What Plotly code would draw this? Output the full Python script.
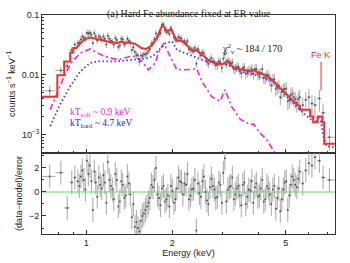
import numpy as np
import plotly.graph_objects as go
from plotly.subplots import make_subplots

# ---- data ----
energy = [0.745, 0.815, 0.858, 0.89, 0.912, 0.935, 0.958, 0.981, 1.005, 1.03,
          1.055, 1.08, 1.107, 1.134, 1.162, 1.19, 1.219, 1.249, 1.28, 1.311,
          1.343, 1.376, 1.41, 1.445, 1.48, 1.517, 1.554, 1.592, 1.631, 1.671,
          1.712, 1.754, 1.797, 1.841, 1.886, 1.932, 1.979, 2.028, 2.077, 2.128,
          2.18, 2.234, 2.288, 2.344, 2.401, 2.46, 2.52, 2.582, 2.645, 2.709,
          2.776, 2.843, 2.913, 2.984, 3.057, 3.132, 3.208, 3.287, 3.367, 3.449,
          3.534, 3.62, 3.709, 3.8, 3.893, 3.988, 4.085, 4.185, 4.288, 4.392,
          4.5, 4.61, 4.723, 4.838, 4.956, 5.078, 5.202, 5.329, 5.46, 5.593,
          5.73, 5.87, 6.02, 6.17, 6.32, 6.55, 6.75, 7.1]
counts = [0.0054, 0.0118, 0.0140, 0.026, 0.032, 0.034, 0.039, 0.042, 0.050, 0.050,
          0.034, 0.044, 0.044, 0.039, 0.040, 0.045, 0.037, 0.032, 0.038, 0.031,
          0.039, 0.034, 0.037, 0.026, 0.024, 0.021, 0.021, 0.022, 0.023, 0.027,
          0.034, 0.049, 0.047, 0.069, 0.055, 0.052, 0.061, 0.042, 0.038, 0.041,
          0.035, 0.034, 0.027, 0.0265, 0.028, 0.027, 0.021, 0.023, 0.0165, 0.0175,
          0.017, 0.0145, 0.0168, 0.013, 0.022, 0.017, 0.0155, 0.0124, 0.0135, 0.012,
          0.013, 0.0104, 0.0119, 0.0125, 0.0125, 0.0102, 0.0108, 0.0089, 0.010, 0.0085,
          0.0082, 0.0058, 0.0066, 0.0052, 0.0057, 0.0036, 0.0045, 0.0042, 0.0034, 0.0042,
          0.0031, 0.0038, 0.0042, 0.0033, 0.0031, 0.0040, 0.0023, 0.0009]
counts_relerr = [0.22, 0.15, 0.14, 0.12, 0.12, 0.12, 0.12, 0.12, 0.13, 0.13,
                 0.13, 0.13, 0.13, 0.13, 0.13, 0.13, 0.13, 0.13, 0.13, 0.13,
                 0.13, 0.13, 0.13, 0.14, 0.14, 0.14, 0.14, 0.14, 0.14, 0.14,
                 0.13, 0.12, 0.12, 0.11, 0.11, 0.11, 0.11, 0.12, 0.12, 0.12,
                 0.13, 0.13, 0.14, 0.14, 0.14, 0.14, 0.15, 0.15, 0.16, 0.16,
                 0.16, 0.17, 0.17, 0.17, 0.16, 0.16, 0.17, 0.18, 0.18, 0.18,
                 0.19, 0.19, 0.19, 0.2, 0.2, 0.21, 0.21, 0.22, 0.22, 0.23,
                 0.24, 0.25, 0.25, 0.26, 0.27, 0.28, 0.3, 0.3, 0.32, 0.33,
                 0.35, 0.36, 0.37, 0.38, 0.4, 0.4, 0.42, 0.4]
resid = [1.3, 1.6, -1.33, 0.8, 1.2, 0.9, 1.3, 1.0, 2.6, 2.2,
         -1.5, 0.8, 1.2, 0.3, 0.8, 2.5, 0.5, -0.6, 1.0, -0.8,
         0.6, -0.3, 0.7, -2.1, -2.9, -3.0, -2.4, -1.8, -1.2, -0.5,
         0.4, 2.0, -0.5, 0.3, -0.8, -0.3, 0.5, -0.9, 0.3, 0.9,
         -0.2, 0.6, -0.6, 0.2, 1.0, 0.7, -0.4, 1.3, -0.7, 0.4,
         0.5, -0.5, 0.8, -0.9, 2.8, 0.2, 0.5, -0.6, 0.3, -0.3,
         0.6, -1.0, 0.2, 0.9, 0.4, -0.4, 0.3, -0.8, 0.5, -0.2,
         0.2, -1.4, 0.3, -0.6, 0.8, -1.5, 0.6, 1.0, 0.4, 1.7,
         0.7, 1.8, 2.4, 2.2, 2.9, 2.6, 1.2, 1.0]

# second interleaved group of spectral bins
energy_b = [0.946, 0.969, 0.993, 1.017, 1.042, 1.067, 1.093, 1.12, 1.148, 1.176,
            1.204, 1.234, 1.264, 1.295, 1.327, 1.359, 1.393, 1.427, 1.462, 1.498,
            1.535, 1.573, 1.611, 1.651, 1.691, 1.733, 1.775, 1.819, 1.863, 1.909,
            1.955, 2.003, 2.052, 2.102, 2.154, 2.207, 2.261, 2.316, 2.372, 2.43,
            2.49, 2.551, 2.613, 2.677, 2.742, 2.809, 2.878, 2.948, 3.02, 3.094,
            3.17, 3.247, 3.327, 3.408, 3.491, 3.577, 3.664, 3.754, 3.846, 3.94,
            4.036, 4.135, 4.236, 4.34, 4.446, 4.555, 4.666, 4.78, 4.897, 5.017,
            5.14, 5.265, 5.394, 5.526]
counts_b = [0.0346, 0.0438, 0.040, 0.049, 0.0467, 0.0495, 0.0375, 0.0415, 0.0437, 0.0322,
            0.040, 0.0357, 0.041, 0.0291, 0.040, 0.0324, 0.040, 0.034, 0.0288, 0.0216,
            0.0165, 0.0206, 0.0218, 0.025, 0.033, 0.0395, 0.042, 0.050, 0.070, 0.0517,
            0.048, 0.0527, 0.0387, 0.0428, 0.0405, 0.0366, 0.0365, 0.0264, 0.0257, 0.0152,
            0.0234, 0.0237, 0.0192, 0.0152, 0.019, 0.0162, 0.0146, 0.0163, 0.0185, 0.015,
            0.0163, 0.016, 0.0128, 0.0136, 0.0106, 0.0133, 0.0112, 0.0116, 0.0104, 0.0125,
            0.0103, 0.0123, 0.0089, 0.0096, 0.0066, 0.0084, 0.0061, 0.0042, 0.0057, 0.0059,
            0.0038, 0.0048, 0.0039, 0.0039]
counts_relerr_b = [0.12, 0.12, 0.12, 0.13, 0.13, 0.13, 0.13, 0.13, 0.13, 0.13,
                   0.13, 0.13, 0.13, 0.13, 0.13, 0.13, 0.13, 0.14, 0.14, 0.14,
                   0.14, 0.14, 0.14, 0.14, 0.13, 0.13, 0.12, 0.12, 0.11, 0.11,
                   0.11, 0.11, 0.12, 0.12, 0.13, 0.13, 0.13, 0.14, 0.14, 0.14,
                   0.15, 0.15, 0.16, 0.16, 0.16, 0.17, 0.17, 0.17, 0.16, 0.16,
                   0.17, 0.17, 0.18, 0.18, 0.18, 0.19, 0.19, 0.2, 0.2, 0.2,
                   0.21, 0.21, 0.22, 0.22, 0.23, 0.24, 0.25, 0.26, 0.26, 0.27,
                   0.29, 0.3, 0.31, 0.33]
resid_b = [0.5, 1.8, 0.2, 1.5, 0.9, 1.7, -0.4, 0.6, 1.4, -0.9,
           1.0, 0.2, 1.5, -1.2, 0.9, -0.5, 1.3, -0.2, -1.0, -2.5,
           -3.3, -2.0, -1.5, -0.9, 0.6, 1.0, -0.2, -1.1, 0.5, -0.6,
           -1.2, 0.1, -0.6, 1.2, 0.8, 0.7, 1.5, -0.3, 0.3, -3.2,
           -0.1, 0.9, 0.0, -1.0, 1.1, 0.2, -0.4, 0.6, 1.6, -0.8,
           0.4, 1.2, -0.2, 0.5, -1.1, 0.8, -0.4, 0.1, -0.9, 0.7,
           -0.3, 1.0, -0.6, 0.3, -1.0, 0.5, -0.5, -1.6, 0.2, 0.9,
           -0.3, 1.3, 0.6, 1.1]

model_E = [0.70, 0.792, 0.792, 0.837, 0.837, 0.879, 0.879, 0.901, 0.901, 0.923,
           0.95, 0.98, 1.01, 1.033, 1.08, 1.15, 1.22, 1.284, 1.33, 1.37,
           1.425, 1.46, 1.484, 1.56, 1.62, 1.70, 1.77, 1.82, 1.849, 1.88,
           1.921, 1.95, 1.979, 2.02, 2.077, 2.13, 2.185, 2.27, 2.366, 2.43,
           2.48, 2.541, 2.62, 2.715, 2.85, 2.98, 3.05, 3.106, 3.17, 3.27,
           3.45, 3.65, 3.80, 3.87, 3.95, 4.15, 4.4, 4.6, 4.77, 5.0,
           5.16, 5.5, 5.6, 5.6, 6.08, 6.08, 6.23, 6.23, 6.46, 6.46,
           6.7, 6.7, 6.81, 6.81, 7.43]
model_val = [0.0043, 0.0043, 0.0098, 0.0098, 0.0167, 0.0167, 0.0235, 0.0235, 0.028, 0.028,
             0.033, 0.038, 0.041, 0.042, 0.040, 0.037, 0.035, 0.034, 0.036, 0.034,
             0.035, 0.033, 0.033, 0.028, 0.027, 0.031, 0.042, 0.058, 0.068, 0.062,
             0.053, 0.056, 0.058, 0.048, 0.037, 0.037, 0.036, 0.030, 0.0245, 0.026,
             0.024, 0.0215, 0.019, 0.0167, 0.0155, 0.015, 0.0155, 0.0173, 0.0155, 0.0134,
             0.0125, 0.0118, 0.0113, 0.012, 0.0112, 0.0102, 0.0088, 0.0073, 0.006, 0.0049,
             0.0041, 0.0031, 0.0030, 0.0026, 0.0026, 0.0020, 0.0020, 0.0016, 0.0016, 0.0020,
             0.0020, 0.0016, 0.0016, 0.0007, 0.0007]

soft_E = [0.748, 0.78, 0.837, 0.88, 0.905, 0.953, 1.033, 1.10, 1.16, 1.294,
          1.425, 1.484, 1.565, 1.65, 1.744, 1.80, 1.87, 1.93, 2.077, 2.22,
          2.44, 2.541, 2.75, 2.94, 3.06, 3.22, 3.46, 3.75, 3.85, 4.06,
          4.3, 4.5, 4.62]
soft_val = [0.0026, 0.0042, 0.0094, 0.0150, 0.0178, 0.023, 0.027, 0.023, 0.0202, 0.0178,
            0.0202, 0.0202, 0.0167, 0.0121, 0.0157, 0.025, 0.0337, 0.0245, 0.0121, 0.0121,
            0.0125, 0.0077, 0.0043, 0.0036, 0.0056, 0.0030, 0.0018, 0.00146, 0.0015, 0.00106,
            0.0008, 0.00056, 0.00046]

hard_E = [0.748, 0.815, 0.879, 0.953, 1.033, 1.09, 1.28, 1.46, 1.65, 1.72,
          1.84, 1.90, 2.0, 2.077, 2.22, 2.54, 2.85, 3.11, 3.46, 3.87,
          4.5, 5.16, 5.69, 6.33, 6.49, 6.62, 6.76, 6.93, 7.43]
hard_val = [0.00138, 0.0034, 0.0064, 0.0114, 0.0157, 0.0167, 0.0167, 0.0178, 0.019, 0.021,
            0.0296, 0.034, 0.036, 0.026, 0.023, 0.0178, 0.0157, 0.0147, 0.0113, 0.010,
            0.0077, 0.0038, 0.0024, 0.00156, 0.0019, 0.0017, 0.00094, 0.00064, 0.0006]

# ---- merge groups and derive bin widths ----
e_all = np.array(energy + energy_b)
order = np.argsort(e_all)
e = e_all[order]
cts = np.array(counts + counts_b)[order]
rel = np.array(counts_relerr + counts_relerr_b)[order]
res = np.array(resid + resid_b)[order]
edges = np.sqrt(e[:-1] * e[1:])
lo = np.concatenate([[0.70], edges])
hi = np.concatenate([edges, [7.43]])
xplus = hi - e
xminus = e - lo
cerr = cts * rel

fig = make_subplots(rows=2, cols=1, shared_xaxes=True, vertical_spacing=0,
                    row_heights=[0.63, 0.37])

grey = "#a8a8a8"
fig.add_trace(go.Scatter(
    x=e, y=cts, mode="markers",
    marker=dict(size=2, color="#555555"),
    error_x=dict(type="data", symmetric=False, array=xplus, arrayminus=xminus,
                 color=grey, thickness=1, width=0),
    error_y=dict(type="data", array=cerr, color=grey, thickness=1, width=0),
    showlegend=False), row=1, col=1)

fig.add_trace(go.Scatter(x=soft_E, y=soft_val, mode="lines",
                         line=dict(color="#ee22ee", width=1.6, dash="6px,3px,2px,3px"),
                         showlegend=False), row=1, col=1)
fig.add_trace(go.Scatter(x=hard_E, y=hard_val, mode="lines",
                         line=dict(color="#3a3aff", width=1.8, dash="1.5px,2.5px"),
                         showlegend=False), row=1, col=1)
fig.add_trace(go.Scatter(x=model_E, y=model_val, mode="lines",
                         line=dict(color="#f03030", width=2),
                         showlegend=False), row=1, col=1)

fig.add_trace(go.Scatter(x=[0.70, 7.43], y=[0, 0], mode="lines",
                         line=dict(color="#90ee90", width=1.5),
                         showlegend=False), row=2, col=1)
fig.add_trace(go.Scatter(
    x=e, y=res, mode="markers",
    marker=dict(size=2, color="#555555"),
    error_x=dict(type="data", symmetric=False, array=xplus, arrayminus=xminus,
                 color=grey, thickness=1, width=0),
    error_y=dict(type="constant", value=1, color=grey, thickness=1, width=0),
    showlegend=False), row=2, col=1)

sans = "Liberation Sans, Arial"
tickfont = dict(family=sans, size=9, color="#222222")
axcommon = dict(showline=True, linecolor="#333333", linewidth=1, mirror=True,
                ticks="inside", ticklen=4, tickcolor="#333333", showgrid=False,
                zeroline=False, tickfont=tickfont, automargin=False)

xr = [np.log10(0.70), np.log10(7.43)]
xminor = dict(ticks="inside", ticklen=2, tickcolor="#333333",
              tickvals=[0.7, 0.8, 0.9, 3, 4, 6, 7])
fig.update_xaxes(type="log", range=xr, tickvals=[1, 2, 5], ticktext=["", "", ""],
                 minor=xminor, **axcommon, row=1, col=1)
fig.update_xaxes(type="log", range=xr, tickvals=[1, 2, 5], ticktext=["1", "2", "5"],
                 minor=xminor,
                 title=dict(text="Energy (keV)", font=dict(family=sans, size=9, color="#222"),
                            standoff=0),
                 **axcommon, row=2, col=1)
fig.update_yaxes(type="log", range=[np.log10(4.9e-4), -1],
                 tickvals=[1e-3, 0.01, 0.1], ticktext=["10<sup>−3</sup>", "0.01", "0.1"],
                 minor=dict(ticks="inside", ticklen=2, tickcolor="#333333",
                            tickvals=[6e-4, 7e-4, 8e-4, 9e-4, 2e-3, 3e-3, 4e-3, 5e-3, 6e-3, 7e-3, 8e-3, 9e-3,
                                      0.02, 0.03, 0.04, 0.05, 0.06, 0.07, 0.08, 0.09]),
                 title=dict(text="counts s<sup>−1</sup> keV<sup>−1</sup>",
                            font=dict(family=sans, size=9, color="#222"), standoff=4),
                 **axcommon, row=1, col=1)
fig.update_yaxes(range=[-3.5, 3.25], tickvals=[-2, 0, 2], ticktext=["−2", "0", "2"],
                 minor=dict(ticks="inside", ticklen=2, tickcolor="#333333", tickvals=[-3, -1, 1, 3]),
                 title=dict(text="(data−model)/error",
                            font=dict(family=sans, size=9, color="#222"), standoff=4),
                 **axcommon, row=2, col=1)

serif = "Liberation Serif, Times New Roman"
fig.add_annotation(text="(a) Hard Fe abundance fixed at ER value", xref="paper", yref="paper",
                   x=0.5, y=1.0, yshift=9, showarrow=False,
                   font=dict(family=serif, size=10, color="#222"))
fig.add_annotation(text="χ<sup>2</sup><sub>ν</sub> ~ 184 / 170", xref="x", yref="y domain",
                   x=np.log10(2.95), y=0.82, showarrow=False, xanchor="left",
                   font=dict(family=serif, size=10, color="#222"))
fig.add_annotation(text="Fe K", xref="x", yref="y", x=np.log10(6.6), y=np.log10(0.0215),
                   showarrow=False, font=dict(family=sans, size=9, color="#f03030"))
fig.add_shape(type="line", xref="x", yref="y", x0=6.64, x1=6.64, y0=0.0165, y1=0.0054,
              line=dict(color="#f03030", width=1))
fig.add_annotation(text="kT<sub>soft</sub> ~ 0.9 keV", xref="x", yref="y",
                   x=np.log10(0.865), y=np.log10(0.00232), xanchor="left", showarrow=False,
                   font=dict(family=serif, size=9.5, color="#ee22ee"))
fig.add_annotation(text="kT<sub>hard</sub> ~ 4.7 keV", xref="x", yref="y",
                   x=np.log10(0.865), y=np.log10(0.00152), xanchor="left", showarrow=False,
                   font=dict(family=serif, size=9.5, color="#2222ee"))

fig.update_layout(width=350, height=263, margin=dict(l=42, r=15, t=15, b=29),
                  plot_bgcolor="white", paper_bgcolor="white")
fig.write_html("out.html", config={"displayModeBar": False},
               post_script="document.body.style.margin='0';document.body.style.overflow='hidden';")
